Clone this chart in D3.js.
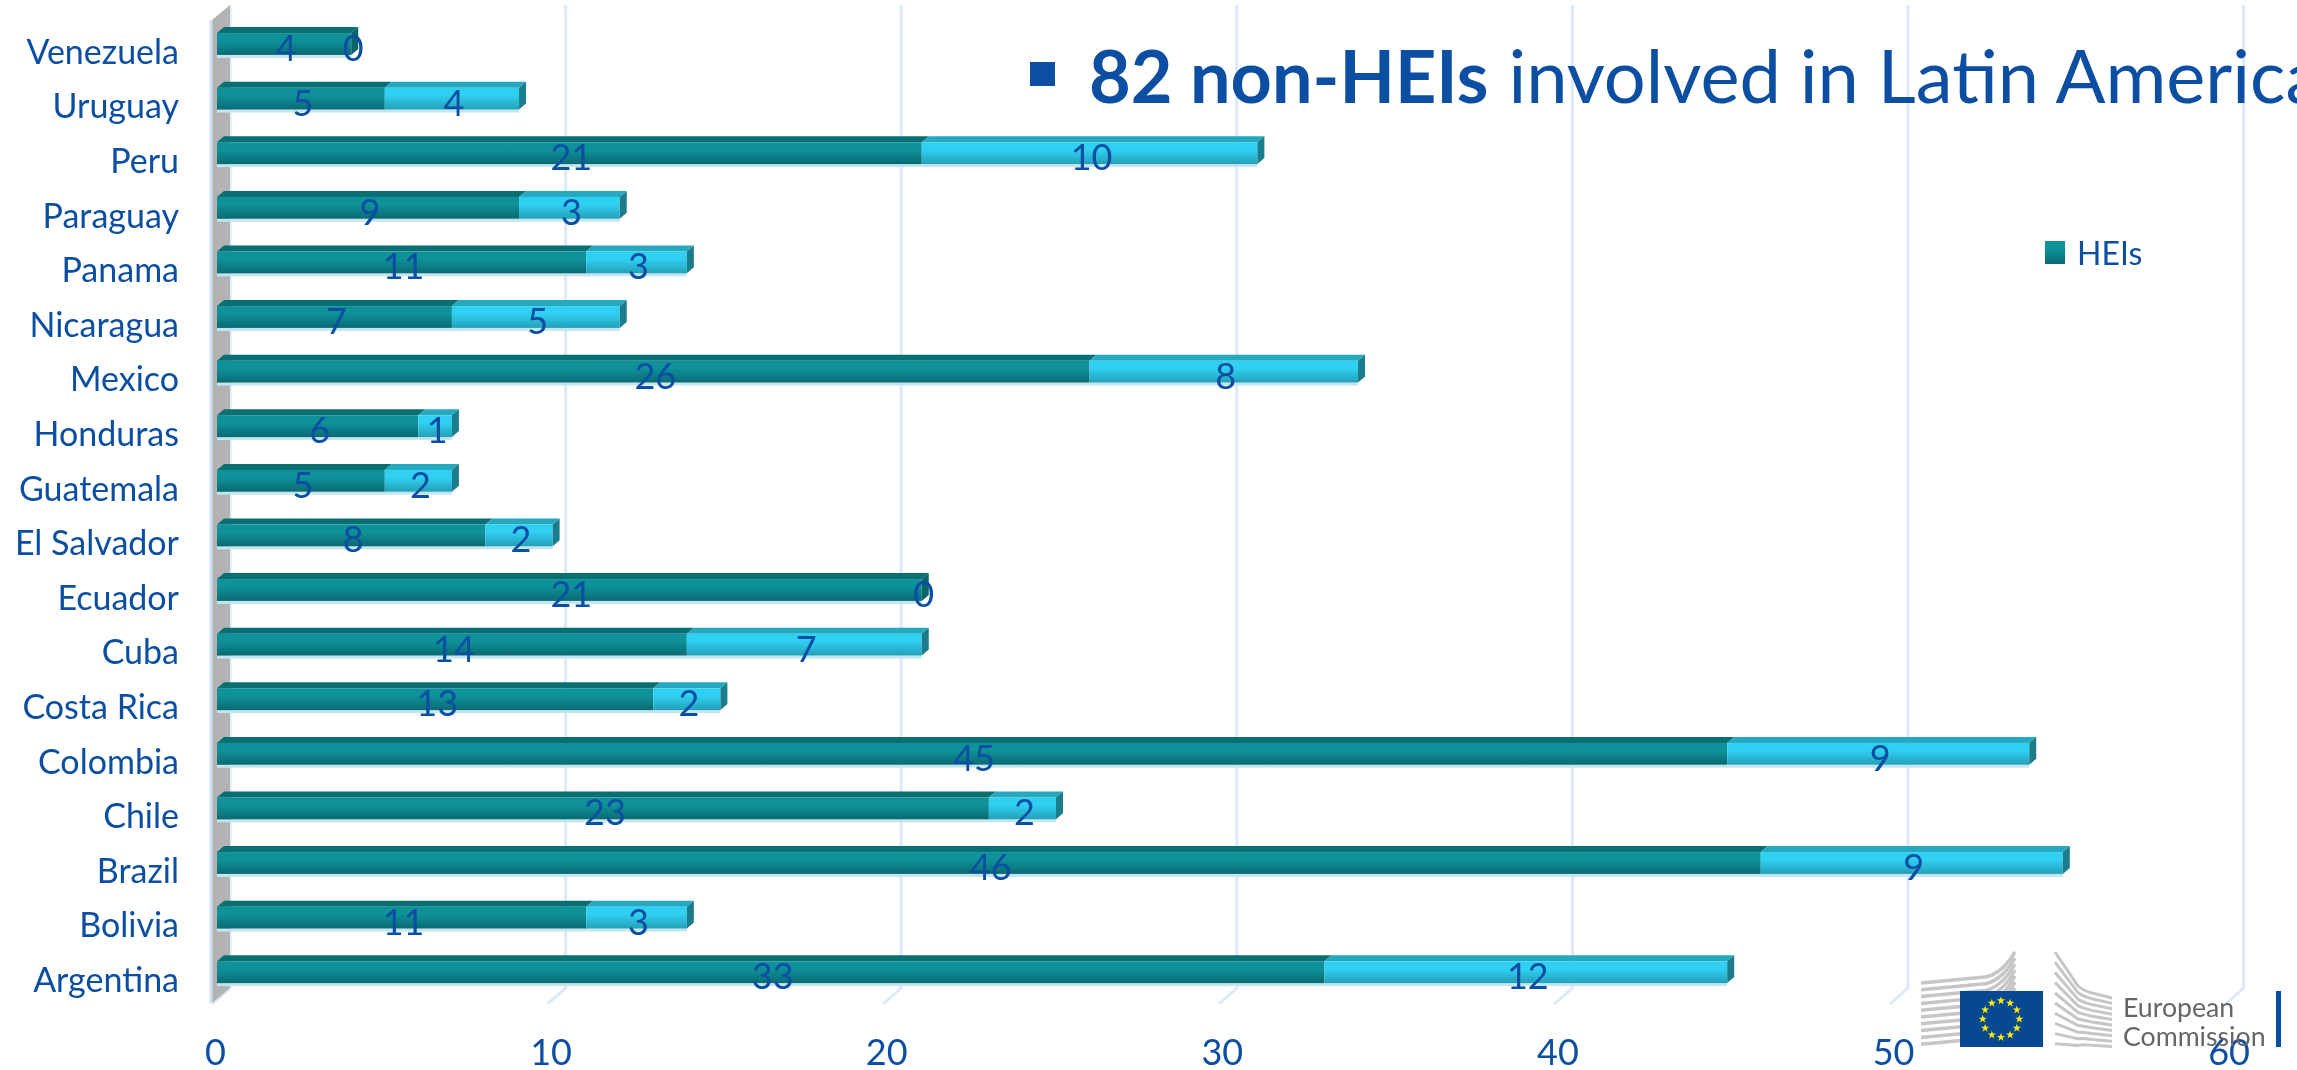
<!DOCTYPE html>
<html>
<head>
<meta charset="utf-8">
<script src="https://cdn.jsdelivr.net/npm/d3@7"></script>
<style>
html, body { margin: 0; padding: 0; background: #fff; }
svg { display: block; filter: blur(0.5px); }
text { font-family: Lato, sans-serif; fill: #0b4ea2; }
</style>
</head>
<body>
<div id="chart"></div>
<script>
var svgWidth = 2297;
var svgHeight = 1070;

// values
var countries = ["Venezuela", "Uruguay", "Peru", "Paraguay", "Panama", "Nicaragua", "Mexico", "Honduras", "Guatemala", "El Salvador", "Ecuador", "Cuba", "Costa Rica", "Colombia", "Chile", "Brazil", "Bolivia", "Argentina"];
var heis = [4, 5, 21, 9, 11, 7, 26, 6, 5, 8, 21, 14, 13, 45, 23, 46, 11, 33];
var nonHeis = [0, 4, 10, 3, 3, 5, 8, 1, 2, 2, 0, 7, 2, 9, 2, 9, 3, 12];
var xTicks = [0, 10, 20, 30, 40, 50, 60];

var depthX = 7;
var depthY = 6;
var wallX = 18;
var wallY = 15;

var svg = d3.select("#chart")
    .append("svg")
    .attr("width", svgWidth)
    .attr("height", svgHeight);

var xscale = d3.scaleLinear()
    .domain([0, 60])
    .range([217, 2230.6]);

var yscale = d3.scaleBand()
    .domain(countries)
    .range([16.7, 999.5])
    .paddingInner(0.6)
    .paddingOuter(0.3);

// bar gradients
var defs = svg.append("defs");
function addGradient(id, top, bottom) {
    var g = defs.append("linearGradient")
        .attr("id", id)
        .attr("x1", 0).attr("x2", 0).attr("y1", 0).attr("y2", 1);
    g.append("stop").attr("offset", "0%").attr("stop-color", top);
    g.append("stop").attr("offset", "35%").attr("stop-color", top);
    g.append("stop").attr("offset", "100%").attr("stop-color", bottom);
}
addGradient("darkFace", "#0e9199", "#0a6a72");
addGradient("lightFace", "#30d0f2", "#24a0b8");

var wallTop = 5;
var wallBottom = 988;
var wallLeft = xscale(0) - 5;

// gridlines on the back wall
svg.append("g").selectAll("path")
    .data(xTicks)
    .enter()
    .append("path")
    .attr("d", d => `M${xscale(d) + 13},${wallTop}V${wallBottom}l-${wallX},${wallY + 1}`)
    .attr("fill", "none")
    .attr("stroke", "#dce9fb")
    .attr("stroke-width", 3);

// side wall
svg.append("path")
    .attr("d", `M${wallLeft},${wallTop + wallY}L${wallLeft + wallX},${wallTop}V${wallBottom}L${wallLeft},${wallBottom + wallY}Z`)
    .attr("fill", "#b3b3b3");
svg.append("line")
    .attr("x1", wallLeft - 1).attr("x2", wallLeft - 1)
    .attr("y1", wallTop + wallY).attr("y2", wallBottom + wallY)
    .attr("stroke", "#cfe0f7")
    .attr("stroke-width", 3);

// title
var title = svg.append("g");
title.append("rect")
    .attr("x", 1030).attr("y", 62)
    .attr("width", 25).attr("height", 24)
    .attr("fill", "#0b4ea2");
var titleText = title.append("text")
    .attr("x", 1089)
    .attr("y", 103)
    .style("font-size", "72px");
titleText.append("tspan").style("font-weight", 700).text("82 non-HEIs");
titleText.append("tspan").attr("dx", 20).style("font-size", "74px").text("involved in Latin America");

// bars
var rows = svg.append("g").selectAll("g")
    .data(countries)
    .enter()
    .append("g");

// pale edge under each bar
rows.append("rect")
    .attr("x", xscale(0))
    .attr("y", d => yscale(d) + yscale.bandwidth())
    .attr("width", (d, i) => xscale(heis[i] + nonHeis[i]) - xscale(0))
    .attr("height", 3)
    .attr("fill", "#c3e6ee");

function box(sel, fromValue, toValue, face, topFace) {
    sel.append("path")
        .attr("d", function (d, i) {
            var x0 = xscale(fromValue(i));
            var x1 = xscale(toValue(i));
            var y = yscale(d);
            return `M${x0},${y}l${depthX},-${depthY}H${x1 + depthX}l-${depthX},${depthY}Z`;
        })
        .attr("fill", topFace);
    sel.append("rect")
        .attr("x", (d, i) => xscale(fromValue(i)))
        .attr("y", d => yscale(d))
        .attr("width", (d, i) => xscale(toValue(i)) - xscale(fromValue(i)))
        .attr("height", yscale.bandwidth())
        .attr("fill", face);
}

box(rows, () => 0, i => heis[i], "url(#darkFace)", "#0a6f73");
box(rows, i => heis[i], i => heis[i] + nonHeis[i], "url(#lightFace)", "#26a8bf");

// end cap of each stack
rows.append("path")
    .attr("d", function (d, i) {
        var x1 = xscale(heis[i] + nonHeis[i]);
        var y = yscale(d);
        return `M${x1},${y}l${depthX},-${depthY}V${y + yscale.bandwidth() - depthY}l-${depthX},${depthY}Z`;
    })
    .attr("fill", (d, i) => nonHeis[i] > 0 ? "#1b7d8c" : "#0a6468");

// value labels
rows.append("text")
    .attr("class", "value")
    .attr("x", (d, i) => xscale(heis[i] / 2) + 2)
    .attr("y", d => yscale(d) + 28)
    .attr("text-anchor", "middle")
    .style("font-size", "36px")
    .text((d, i) => heis[i]);

rows.append("text")
    .attr("class", "value")
    .attr("x", (d, i) => xscale(heis[i] + nonHeis[i] / 2) + 2)
    .attr("y", d => yscale(d) + 28)
    .attr("text-anchor", "middle")
    .style("font-size", "36px")
    .text((d, i) => nonHeis[i]);

// axes
var xAxis = d3.axisBottom(xscale).tickValues(xTicks).tickSize(0).tickPadding(0);
var yAxis = d3.axisLeft(yscale).tickSize(0).tickPadding(0);

svg.append("g")
    .attr("transform", "translate(-2, 1039)")
    .call(xAxis)
    .call(g => g.select(".domain").remove())
    .selectAll("text")
    .attr("fill", null)
    .style("font-size", "36px");

svg.append("g")
    .attr("transform", "translate(179, 9)")
    .call(yAxis)
    .call(g => g.select(".domain").remove())
    .selectAll("text")
    .attr("fill", null)
    .style("font-size", "34px");

// legend
svg.append("rect")
    .attr("x", 2045).attr("y", 241)
    .attr("width", 20).attr("height", 23)
    .attr("fill", "url(#darkFace)");
svg.append("text")
    .attr("x", 2077).attr("y", 265)
    .style("font-size", "32px")
    .text("HEIs");

// logo
var logo = svg.append("g");
var stripes = d3.range(10);
logo.selectAll("path.left")
    .data(stripes)
    .enter()
    .append("path")
    .attr("class", "left")
    .attr("d", d => `M1921,${983 + d * 6.8}L1985,${977 + d * 6.8}Q2002,${974 + d * 6.5} 2015,${952 + d * 6}`)
    .attr("fill", "none")
    .attr("stroke", "#c6c6c6")
    .attr("stroke-width", 3.5);
logo.selectAll("path.right")
    .data(stripes)
    .enter()
    .append("path")
    .attr("class", "right")
    .attr("d", d => `M2055,${952 + d * 10.2}L2078,${986 + d * 6.6}Q2082,${990 + d * 6} 2092,${993 + d * 5.8}L2112,${998 + d * 5.4}`)
    .attr("fill", "none")
    .attr("stroke", "#c6c6c6")
    .attr("stroke-width", 3);
logo.append("rect")
    .attr("x", 1960).attr("y", 991)
    .attr("width", 83).attr("height", 56)
    .attr("fill", "#064892");
var star = d3.symbol().type(d3.symbolStar).size(22);
logo.selectAll("path.star")
    .data(d3.range(12))
    .enter()
    .append("path")
    .attr("class", "star")
    .attr("d", star)
    .attr("transform", d => `translate(${2001 + 18.3 * Math.sin(d * Math.PI / 6)}, ${1019 - 18.3 * Math.cos(d * Math.PI / 6)})`)
    .attr("fill", "#ffed00");
logo.append("text")
    .attr("x", 2123).attr("y", 1017)
    .style("font-size", "26.7px")
    .style("fill", "#666")
    .text("European");
logo.append("text")
    .attr("x", 2123).attr("y", 1046)
    .style("font-size", "26.7px")
    .style("fill", "#666")
    .text("Commission");
logo.append("rect")
    .attr("x", 2276).attr("y", 991)
    .attr("width", 5).attr("height", 56)
    .attr("fill", "#034ea2");
</script>
</body>
</html>
